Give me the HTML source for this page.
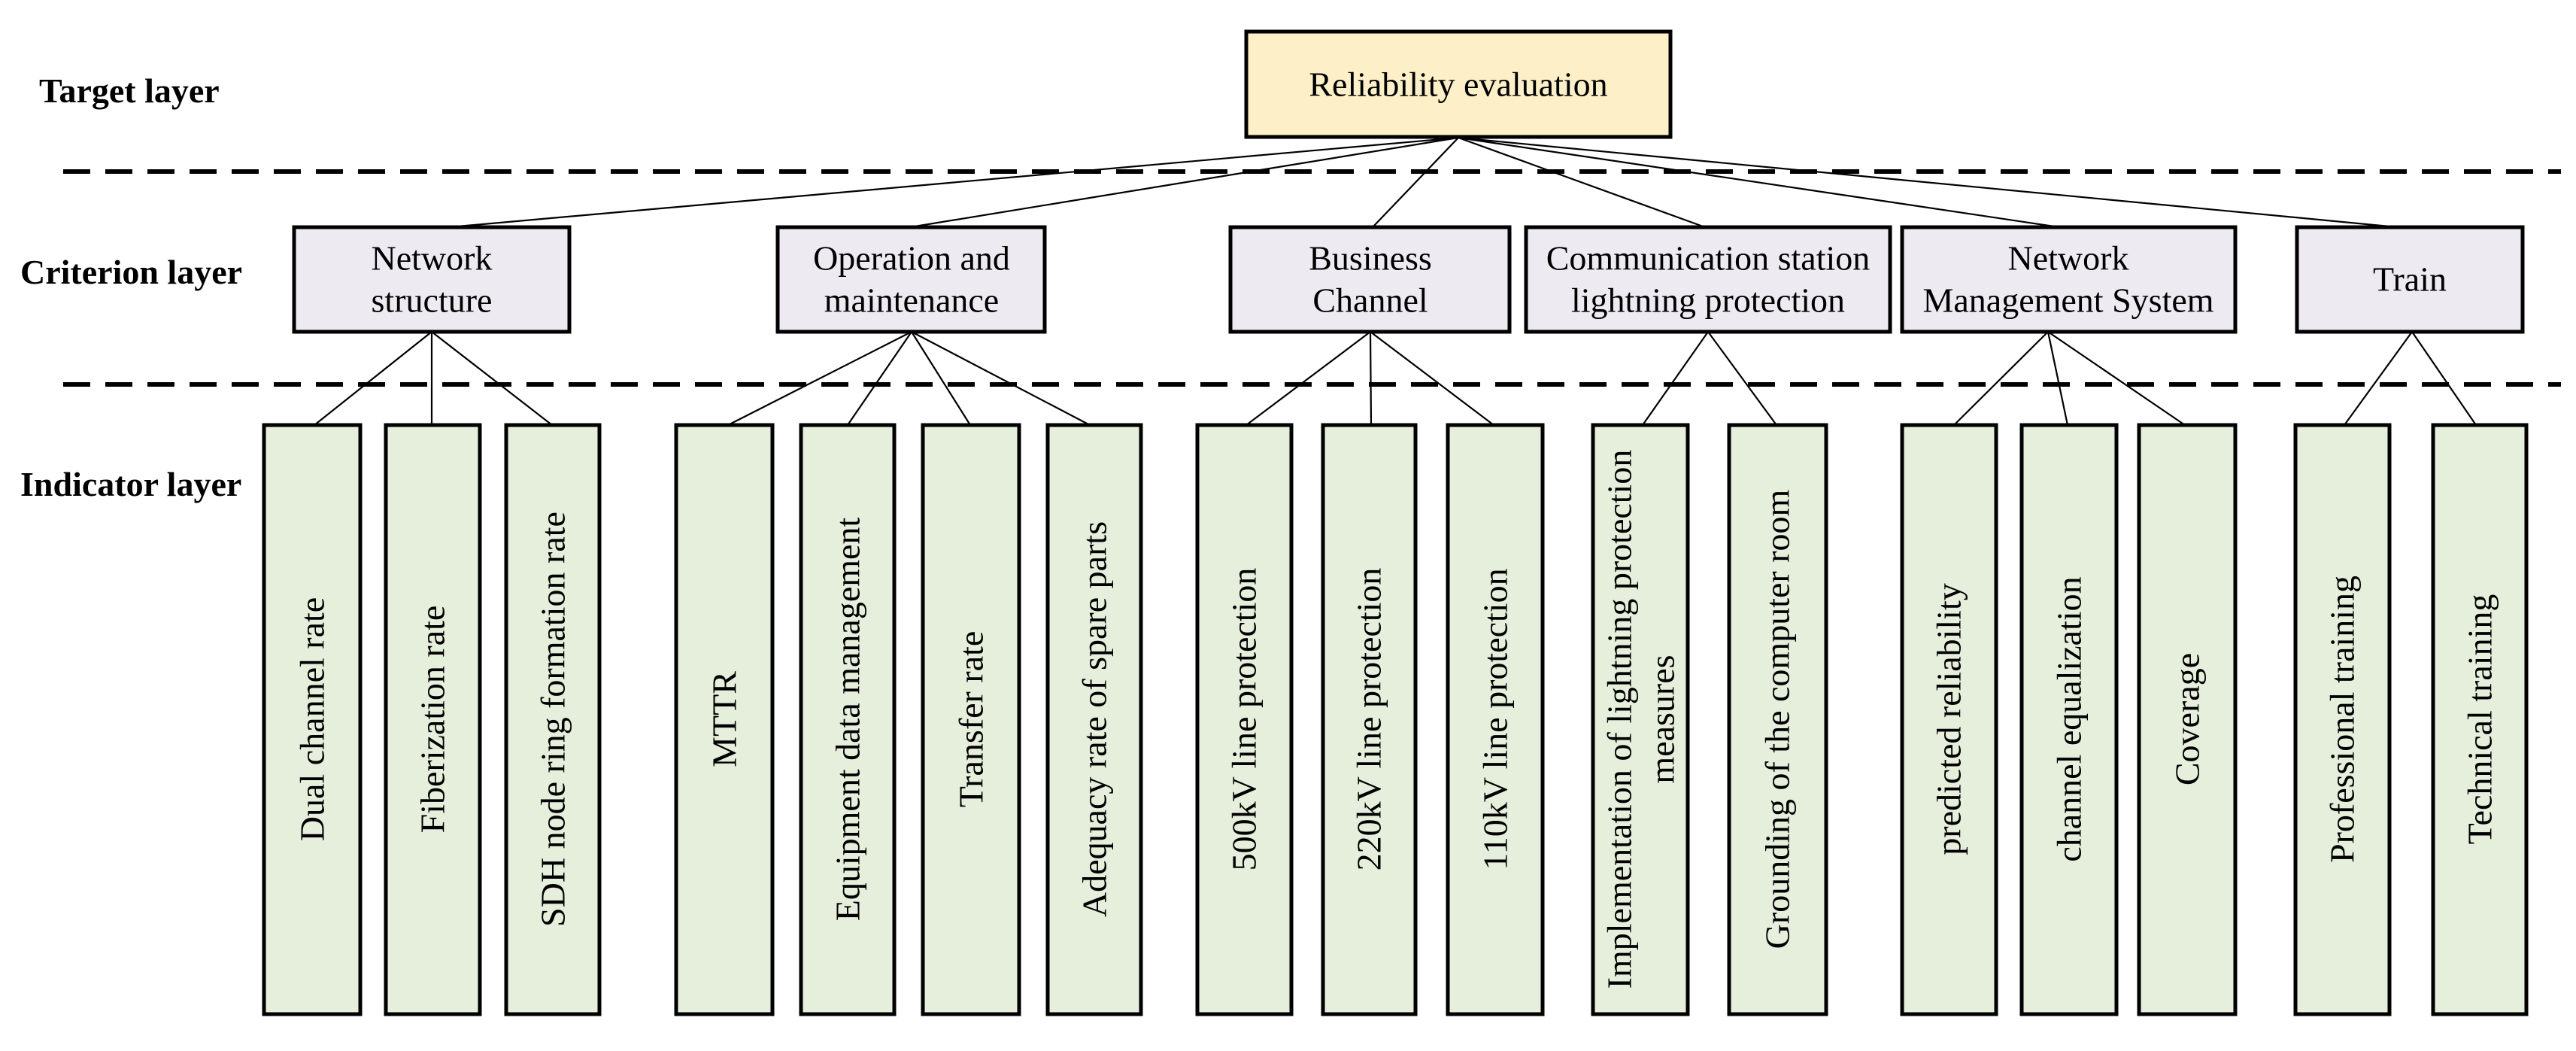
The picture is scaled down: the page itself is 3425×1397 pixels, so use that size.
<!DOCTYPE html>
<html><head><meta charset="utf-8"><style>html,body{margin:0;padding:0;background:#fff}svg{display:block}</style></head><body>
<svg width="3425" height="1397" viewBox="0 0 3425 1397" xmlns="http://www.w3.org/2000/svg" font-family="'Liberation Serif', serif">
<g font-weight="bold" font-size="46" fill="#000">
<text x="52" y="136">Target layer</text>
<text x="27" y="377">Criterion layer</text>
<text x="27" y="659">Indicator layer</text>
</g>
<g stroke="#000" stroke-width="6" stroke-dasharray="36 20">
<line x1="84" y1="228" x2="3405" y2="228"/>
<line x1="84" y1="511" x2="3405" y2="511"/>
</g>
<g stroke="#000" stroke-width="2.2">
<line x1="1939" y1="183" x2="597" y2="302"/>
<line x1="1939" y1="183" x2="1210" y2="302"/>
<line x1="1939" y1="183" x2="1825" y2="302"/>
<line x1="1939" y1="183" x2="2267" y2="302"/>
<line x1="1939" y1="183" x2="2738" y2="302"/>
<line x1="1939" y1="183" x2="3188" y2="302"/>
<line x1="574" y1="441" x2="418" y2="565"/>
<line x1="574" y1="441" x2="574" y2="565"/>
<line x1="574" y1="441" x2="734" y2="565"/>
<line x1="1212" y1="441" x2="968" y2="565"/>
<line x1="1212" y1="441" x2="1127" y2="565"/>
<line x1="1212" y1="441" x2="1290" y2="565"/>
<line x1="1212" y1="441" x2="1449" y2="565"/>
<line x1="1822" y1="441" x2="1657" y2="565"/>
<line x1="1822" y1="441" x2="1823" y2="565"/>
<line x1="1822" y1="441" x2="1986" y2="565"/>
<line x1="2271" y1="441" x2="2184" y2="565"/>
<line x1="2271" y1="441" x2="2362" y2="565"/>
<line x1="2723" y1="441" x2="2598" y2="565"/>
<line x1="2723" y1="441" x2="2749" y2="565"/>
<line x1="2723" y1="441" x2="2905" y2="565"/>
<line x1="3207" y1="441" x2="3117" y2="565"/>
<line x1="3207" y1="441" x2="3292" y2="565"/>
</g>
<g stroke="#000" stroke-width="5">
<rect x="1657" y="42" width="564" height="140" fill="#fdf0c8"/>
<g fill="#eeeaf2">
<rect x="391" y="302" width="366" height="139"/>
<rect x="1034" y="302" width="355" height="139"/>
<rect x="1636" y="302" width="371" height="139"/>
<rect x="2029" y="302" width="484" height="139"/>
<rect x="2529" y="302" width="443" height="139"/>
<rect x="3054" y="302" width="300" height="139"/>
</g>
<g fill="#e6efdc">
<rect x="351" y="565" width="128" height="783"/>
<rect x="513" y="565" width="125" height="783"/>
<rect x="673" y="565" width="124" height="783"/>
<rect x="899" y="565" width="128" height="783"/>
<rect x="1065" y="565" width="124" height="783"/>
<rect x="1227" y="565" width="128" height="783"/>
<rect x="1393" y="565" width="124" height="783"/>
<rect x="1592" y="565" width="125" height="783"/>
<rect x="1759" y="565" width="123" height="783"/>
<rect x="1925" y="565" width="126" height="783"/>
<rect x="2118" y="565" width="126" height="783"/>
<rect x="2299" y="565" width="129" height="783"/>
<rect x="2529" y="565" width="125" height="783"/>
<rect x="2688" y="565" width="126" height="783"/>
<rect x="2844" y="565" width="128" height="783"/>
<rect x="3052" y="565" width="125" height="783"/>
<rect x="3235" y="565" width="124" height="783"/>
</g>
</g>
<g font-size="46" fill="#000" text-anchor="middle" dominant-baseline="central">
<text x="1939" y="112">Reliability evaluation</text>
<text x="574" y="343">Network</text><text x="574" y="399">structure</text>
<text x="1212" y="343">Operation and</text><text x="1212" y="399">maintenance</text>
<text x="1822" y="343">Business</text><text x="1822" y="399">Channel</text>
<text x="2271" y="343">Communication station</text><text x="2271" y="399">lightning protection</text>
<text x="2750" y="343">Network</text><text x="2750" y="399">Management System</text>
<text x="3204" y="371">Train</text>
</g>
<g font-size="46" fill="#000" text-anchor="middle" dominant-baseline="central">
<text transform="translate(415,956) rotate(-90)">Dual channel rate</text>
<text transform="translate(575,956) rotate(-90)">Fiberization rate</text>
<text transform="translate(735,956) rotate(-90)">SDH node ring formation rate</text>
<text transform="translate(963,956) rotate(-90)">MTTR</text>
<text transform="translate(1127,956) rotate(-90)">Equipment data management</text>
<text transform="translate(1291,956) rotate(-90)">Transfer rate</text>
<text transform="translate(1455,956) rotate(-90)">Adequacy rate of spare parts</text>
<text transform="translate(1654,956) rotate(-90)">500kV line protection</text>
<text transform="translate(1820,956) rotate(-90)">220kV line protection</text>
<text transform="translate(1988,956) rotate(-90)">110kV line protection</text>
<text transform="translate(2153,956) rotate(-90)">Implementation of lightning protection</text>
<text transform="translate(2210,956) rotate(-90)">measures</text>
<text transform="translate(2363,956) rotate(-90)">Grounding of the computer room</text>
<text transform="translate(2591,956) rotate(-90)">predicted reliability</text>
<text transform="translate(2751,956) rotate(-90)">channel equalization</text>
<text transform="translate(2908,956) rotate(-90)">Coverage</text>
<text transform="translate(3114,956) rotate(-90)">Professional training</text>
<text transform="translate(3297,956) rotate(-90)">Technical training</text>
</g>
</svg>
</body></html>
